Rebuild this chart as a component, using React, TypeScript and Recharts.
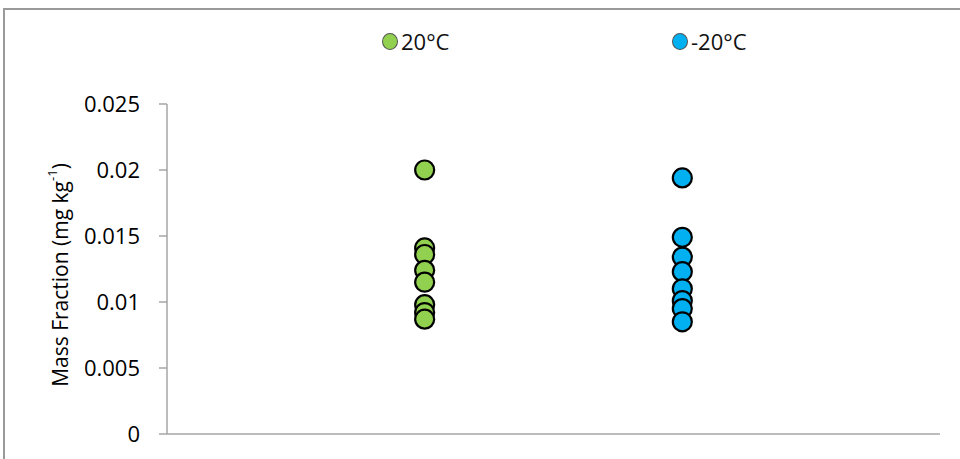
import { ScatterChart, Scatter, XAxis, YAxis } from "recharts";

const seriesNames = ["20°C", "-20°C"];
const seriesX = [1, 2];
const warmValues = [0.02, 0.0141, 0.0136, 0.0124, 0.0115, 0.0098, 0.0092, 0.0087];
const coldValues = [0.0194, 0.0149, 0.0134, 0.0123, 0.011, 0.0101, 0.0095, 0.0085];
const yTicks = [0, 0.005, 0.01, 0.015, 0.02, 0.025];

const warmData = warmValues.map((y) => ({ x: seriesX[0], y }));
const coldData = coldValues.map((y) => ({ x: seriesX[1], y }));

const GREEN = "#92d050";
const BLUE = "#00b0f0";
const AXIS = "#a6a6a6";
const FONT = "'Open Sans', sans-serif";

const dot = (fill: string) => (p: any) =>
  <circle cx={p.cx} cy={p.cy} r={9.5} fill={fill} stroke="#000" strokeWidth={2.2} />;

function YLabel(props: any) {
  const vb = props.viewBox || { x: 0, y: 0, width: 0, height: 0 };
  const cx = vb.x + 60;
  const cy = vb.y + vb.height / 2 + 6;
  return (
    <text
      x={cx}
      y={cy}
      transform={`rotate(-90, ${cx}, ${cy})`}
      textAnchor="middle"
      dominantBaseline="central"
      fontFamily={FONT}
      fontSize={21}
      fill="#000"
    >
      Mass Fraction (mg kg
      <tspan dy={-8} fontSize={13}>-1</tspan>
      <tspan dy={8}>)</tspan>
    </text>
  );
}

const legendItems = [
  { name: seriesNames[0], color: GREEN, left: 382 },
  { name: seriesNames[1], color: BLUE, left: 672 },
];

export default function App() {
  return (
    <div style={{ position: "absolute", left: 0, top: 0, width: 960, height: 459, overflow: "hidden", background: "#fff" }}>
      <div
        style={{
          position: "absolute",
          left: 3,
          top: 8,
          width: 1000,
          height: 500,
          border: "2px solid #9a9a9a",
        }}
      />
      {legendItems.map((it) => (
        <div
          key={it.name}
          style={{
            position: "absolute",
            left: it.left,
            top: 26,
            display: "flex",
            alignItems: "center",
            fontFamily: FONT,
            fontSize: 22,
            color: "#111",
          }}
        >
          <span
            style={{
              display: "inline-block",
              width: 14,
              height: 15,
              borderRadius: "50%",
              background: it.color,
              border: "1px solid #555",
              marginRight: 3,
            }}
          />
          {it.name}
        </div>
      ))}
      <div style={{ position: "absolute", left: 0, top: 0 }}>
        <ScatterChart width={960} height={459} margin={{ top: 104, right: 20, bottom: 24, left: 0 }}>
          <XAxis
            type="number"
            dataKey="x"
            domain={[0, 3]}
            tick={false}
            tickLine={false}
            height={1}
            axisLine={{ stroke: AXIS, strokeWidth: 1.5 }}
          />
          <YAxis
            type="number"
            dataKey="y"
            domain={[0, 0.025]}
            ticks={yTicks}
            width={167}
            tickSize={8}
            tickMargin={19}
            axisLine={{ stroke: AXIS, strokeWidth: 1.5 }}
            tickLine={{ stroke: AXIS, strokeWidth: 1.5 }}
            tick={{ fontFamily: FONT, fontSize: 22, fill: "#000" }}
            label={<YLabel />}
          />
          <Scatter name={seriesNames[0]} data={warmData} shape={dot(GREEN)} isAnimationActive={false} />
          <Scatter name={seriesNames[1]} data={coldData} shape={dot(BLUE)} isAnimationActive={false} />
        </ScatterChart>
      </div>
    </div>
  );
}
